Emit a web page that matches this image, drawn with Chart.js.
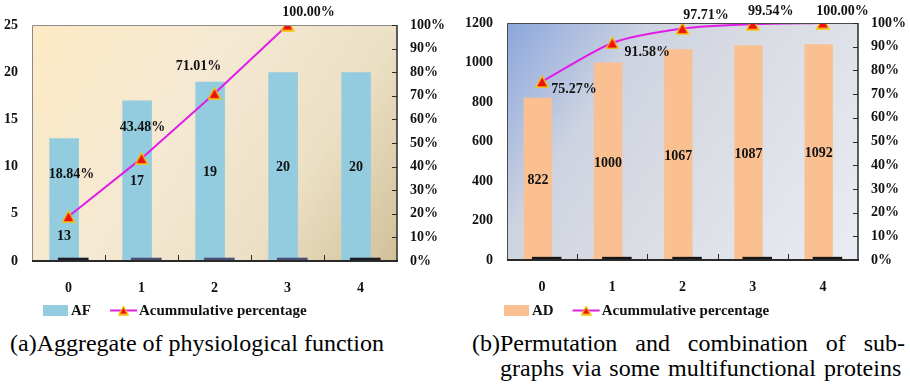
<!DOCTYPE html>
<html>
<head>
<meta charset="utf-8">
<script src="https://cdn.jsdelivr.net/npm/chart.js@4.4.1/dist/chart.umd.min.js"></script>
<style>
  html, body { margin: 0; padding: 0; background: #fff; width: 910px; height: 385px; overflow: hidden; }
  .panel { position: absolute; top: 0; width: 455px; height: 325px; }
  .cap { position: absolute; font-family: 'Liberation Serif', 'Times New Roman', serif; font-size: 24px;
         line-height: 25px; color: #000; white-space: nowrap; }
</style>
</head>
<body>
<div class="panel" style="left:0"><canvas id="chartA" width="455" height="325"></canvas></div>
<div class="panel" style="left:455px"><canvas id="chartB" width="455" height="325"></canvas></div>
<div class="cap" style="left:10px; top:331px;">(a)Aggregate of physiological function</div>
<div class="cap" style="left:472px; top:331px; width:433px; white-space:normal; text-align:justify; text-align-last:justify;">(b)Permutation and combination of sub-</div>
<div class="cap" style="left:500px; top:356px; word-spacing:2px;">graphs via some multifunctional proteins</div>

<script>
// ---- data ----
const categories = ['0', '1', '2', '3', '4'];

const afCounts  = [13, 17, 19, 20, 20];
const afFloor   = [0.35, 0.35, 0.35, 0.35, 0.35];
const afPercent = [18.84, 43.48, 71.01, 100.00];

const adCounts  = [822, 1000, 1067, 1087, 1092];
const adFloor   = [16, 16, 16, 16, 16];
const adPercent = [75.27, 91.58, 97.71, 99.54, 100.00];

const afAxisTicks  = [0, 5, 10, 15, 20, 25];
const adAxisTicks  = [0, 200, 400, 600, 800, 1000, 1200];
const pctAxisTicks = [0, 10, 20, 30, 40, 50, 60, 70, 80, 90, 100];

// ---- shared styling ----
const FONT = "'Liberation Serif', 'Times New Roman', serif";
Chart.defaults.font.family = FONT;
Chart.defaults.font.size = 14;
Chart.defaults.font.weight = 'bold';
Chart.defaults.color = '#111';

// triangle marker, centred on its bounding box
function makeMarker(w, h) {
  const c = document.createElement('canvas');
  c.width = w; c.height = h;
  const g = c.getContext('2d');
  g.beginPath();
  g.moveTo(w / 2, 1);
  g.lineTo(w - 1, h - 1);
  g.lineTo(1, h - 1);
  g.closePath();
  g.fillStyle = '#ee1010';
  g.fill();
  g.lineWidth = 1.3;
  g.strokeStyle = '#f7c600';
  g.stroke();
  return c;
}
const marker = makeMarker(14, 13);
const legendMarker = makeMarker(11, 10);

const categoryTicks = s => { s.ticks = categories.map((c, i) => ({ value: i })); };

function panelPlugin(cfg) {
  return {
    id: 'panel',
    beforeDraw(chart) {
      const { ctx, chartArea: a } = chart;
      const g = ctx.createLinearGradient(a.left, a.top, a.right, a.bottom);
      cfg.bgStops.forEach(([o, c]) => g.addColorStop(o, c));
      ctx.save();
      ctx.fillStyle = g;
      ctx.fillRect(a.left, a.top, a.right - a.left, a.bottom - a.top);
      ctx.restore();
    },
    afterDatasetsDraw(chart) {
      const { ctx, chartArea: a, scales } = chart;
      ctx.save();
      // plot frame
      ctx.lineCap = 'butt';
      ctx.strokeStyle = cfg.frameLight; ctx.lineWidth = 1;
      ctx.beginPath();
      ctx.moveTo(a.left + 0.5, a.bottom); ctx.lineTo(a.left + 0.5, a.top + 0.5); ctx.lineTo(a.right, a.top + 0.5);
      ctx.stroke();
      ctx.strokeStyle = '#2a2a2a';
      ctx.lineWidth = 2;
      ctx.beginPath(); ctx.moveTo(a.left, a.bottom); ctx.lineTo(a.right + 1, a.bottom); ctx.stroke();
      ctx.lineWidth = 1.5;
      ctx.beginPath(); ctx.moveTo(a.right, a.top); ctx.lineTo(a.right, a.bottom); ctx.stroke();
      // inward tick marks between categories
      ctx.lineWidth = 1;
      for (let i = 0; i < categories.length - 1; i++) {
        const x = Math.round(scales.x.getPixelForValue(i + 0.5)) + 0.5;
        ctx.beginPath(); ctx.moveTo(x, a.bottom); ctx.lineTo(x, a.bottom - 6); ctx.stroke();
      }
      // inward tick marks on the percentage axis
      pctAxisTicks.forEach(v => {
        const y = Math.round(scales.y1.getPixelForValue(v)) + 0.5;
        ctx.beginPath(); ctx.moveTo(a.right, y); ctx.lineTo(a.right - 5, y); ctx.stroke();
      });

      // value labels
      ctx.font = 'bold 14px ' + FONT;
      ctx.fillStyle = '#111';
      ctx.textAlign = 'center';
      ctx.textBaseline = 'middle';
      const barMeta = chart.getDatasetMeta(2);
      barMeta.data.forEach((bar, i) => {
        const p = bar.getProps(['x', 'y', 'base'], true);
        const [dx, dy] = cfg.barLabelShift[i];
        ctx.fillText(String(cfg.counts[i]), p.x + dx, (p.y + p.base) / 2 + dy);
      });
      const lineMeta = chart.getDatasetMeta(0);
      lineMeta.data.forEach((pt, i) => {
        const p = pt.getProps(['x', 'y'], true);
        const [dx, dy] = cfg.pctLabelShift[i];
        ctx.fillText(cfg.percent[i].toFixed(2) + '%', p.x + dx, p.y + dy);
      });
      ctx.restore();
    },
    afterDraw(chart) {
      // legend
      const { ctx } = chart;
      const L = cfg.legend;
      ctx.save();
      ctx.font = 'bold 15px ' + FONT;
      ctx.textBaseline = 'middle';
      ctx.textAlign = 'left';
      let x = L.x;
      ctx.fillStyle = cfg.barColor;
      ctx.fillRect(x, L.y - 5.5, 25, 11);
      x += 28;
      ctx.fillStyle = '#111';
      ctx.fillText(cfg.barName, x, L.y + 1);
      x += ctx.measureText(cfg.barName).width + 19;
      ctx.strokeStyle = cfg.lineColor; ctx.lineWidth = 2;
      ctx.beginPath(); ctx.moveTo(x, L.y); ctx.lineTo(x + 27, L.y); ctx.stroke();
      ctx.drawImage(legendMarker, x + 13.5 - 5.5, L.y - 5);
      x += 29;
      ctx.fillText('Acummulative percentage', x, L.y + 1);
      ctx.restore();
    }
  };
}

function buildChart(id, opt) {
  const n = categories.length;
  const hiddenX = () => ({
    type: 'linear', min: -0.5, max: n - 0.5, offset: false, display: false,
    grid: { display: false, drawTicks: false, offset: false },
    afterBuildTicks: categoryTicks
  });
  return new Chart(document.getElementById(id), {
    type: 'bar',
    data: {
      datasets: [
        {
          type: 'line',
          label: 'Acummulative percentage',
          data: opt.percent.map((v, i) => ({ x: i, y: v })),
          xAxisID: 'x', yAxisID: 'y1',
          borderColor: opt.lineColor, borderWidth: 2,
          pointStyle: marker, pointRadius: 7,
          tension: opt.tension, order: 0
        },
        {
          label: 'floor',
          data: opt.floor.map((v, i) => ({ x: i + 0.065, y: v })),
          xAxisID: 'xf', yAxisID: 'y',
          backgroundColor: opt.floorColors,
          grouped: false, categoryPercentage: 1, barPercentage: 0.42, order: 1
        },
        {
          label: opt.barName,
          data: opt.counts.map((v, i) => ({ x: i - 0.06, y: v })),
          xAxisID: 'xb', yAxisID: 'y',
          backgroundColor: opt.barColor,
          grouped: false, categoryPercentage: 1, barPercentage: 0.405, order: 2
        }
      ]
    },
    options: {
      responsive: false, animation: false, events: [],
      layout: { padding: { top: opt.top, left: 0, right: 0, bottom: 0 } },
      plugins: { legend: { display: false }, tooltip: { enabled: false } },
      scales: {
        x: {
          type: 'linear', min: -0.5, max: n - 0.5, offset: false,
          grid: { display: false, drawTicks: false, offset: false }, border: { display: false },
          afterBuildTicks: categoryTicks,
          ticks: { padding: 19, maxRotation: 0, autoSkip: false, callback: v => categories[v] },
          afterFit: s => { s.height = opt.bottomH; }
        },
        xb: hiddenX(),
        xf: hiddenX(),
        y: {
          position: 'left', min: opt.yTicks[0], max: opt.yTicks[opt.yTicks.length - 1],
          grid: { display: false, drawTicks: false }, border: { display: false },
          afterBuildTicks: s => { s.ticks = opt.yTicks.map(v => ({ value: v })); },
          ticks: { padding: 14, callback: v => String(v) },
          afterFit: s => { s.width = opt.leftW; }
        },
        y1: {
          position: 'right', min: 0, max: 100,
          grid: { display: false, drawTicks: false }, border: { display: false },
          afterBuildTicks: s => { s.ticks = pctAxisTicks.map(v => ({ value: v })); },
          ticks: { padding: 13, callback: v => v + '%' },
          afterFit: s => { s.width = opt.rightW; }
        }
      }
    },
    plugins: [panelPlugin(opt)]
  });
}

buildChart('chartA', {
  counts: afCounts, floor: afFloor, percent: afPercent, yTicks: afAxisTicks,
  barName: 'AF', barColor: '#93cbdf', lineColor: '#e01ee6', tension: 0,
  floorColors: ['#1c1c28', '#4a5073', '#4a5073', '#4a5073', '#1c1c28'],
  top: 25, bottomH: 64, leftW: 32, rightW: 58,
  frameLight: '#8c8c8c',
  bgStops: [[0, '#fdeac5'], [0.4, '#f5e9d3'], [0.72, '#ebdfc4'], [1, '#d1c099']],
  barLabelShift: [[0, 37], [0, 1], [0, 1], [0, 1], [0, 1]],
  pctLabelShift: [[3, -42], [1, -31], [-16, -27.5], [21, -12.5]],
  legend: { x: 43, y: 310.5 }
});

buildChart('chartB', {
  counts: adCounts, floor: adFloor, percent: adPercent, yTicks: adAxisTicks,
  barName: 'AD', barColor: '#fac091', lineColor: '#e01ee6', tension: 0.25,
  floorColors: '#151515',
  top: 23, bottomH: 65, leftW: 52, rightW: 52,
  frameLight: '#4a4a4a',
  bgStops: [[0, '#8ba6dc'], [0.28, '#cdd3e1'], [0.5, '#d9dbe2'], [1, '#e9ecf4']],
  barLabelShift: [[0, 2], [0, 2], [0, 2], [0, 2], [0, 1]],
  pctLabelShift: [[32, 7.5], [35, 9], [23.5, -13.4], [18, -13], [19.5, -11.3]],
  legend: { x: 49, y: 310.5 }
});
</script>
</body>
</html>
